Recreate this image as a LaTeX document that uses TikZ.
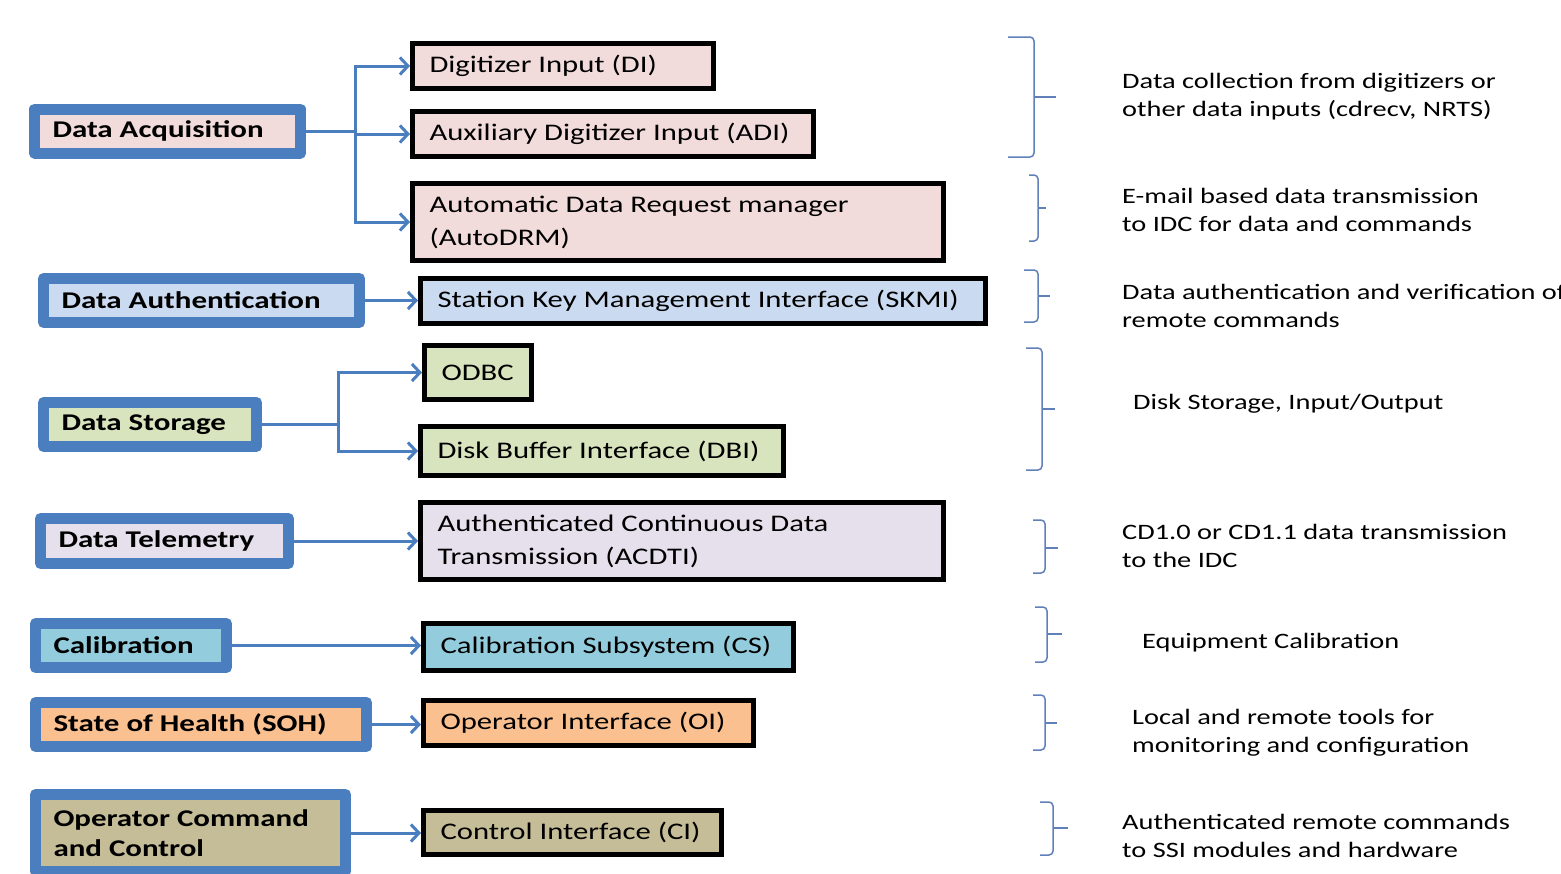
\documentclass[tikz,border=0pt]{standalone}
\usepackage{fontspec}
\setmainfont{Carlito}[FakeStretch=1.29]
\usetikzlibrary{arrows.meta}
\definecolor{grpblue}{HTML}{4A7EBF}
\definecolor{brkblue}{HTML}{5F80B8}
\definecolor{acqfill}{HTML}{F2DCDB}
\definecolor{authfill}{HTML}{CADAF0}
\definecolor{storfill}{HTML}{D7E4BD}
\definecolor{telefill}{HTML}{E5E0EC}
\definecolor{calfill}{HTML}{93CDDD}
\definecolor{sohfill}{HTML}{FAC090}
\definecolor{occfill}{HTML}{C4BD97}
\tikzset{
  grp/.style={draw=grpblue,line width=11pt,line join=round,inner xsep=18pt,inner ysep=0pt,
    align=flush left,font=\fontsize{24}{30}\selectfont\bfseries},
  unit/.style={draw=black,line width=5pt,inner xsep=17pt,inner ysep=0pt,
    align=flush left,font=\fontsize{23.8}{33}\selectfont},
  desc/.style={anchor=west,align=left,inner sep=0pt,font=\fontsize{22}{28}\selectfont},
  link/.style={draw=grpblue,line width=3pt},
  arr/.style={link,-{Straight Barb[length=8pt,width=17pt]}},
  brk/.style={draw=brkblue,line width=1.5pt,rounded corners=4pt}
}
\begin{document}
\begin{tikzpicture}[x=1pt,y=-1pt]
            \useasboundingbox(0,0)rectangle(1561,873);
            % groups
            \node[grp,fill=acqfill,text width=230pt,minimum height=44pt](acq)at(167.5,131){Data Acquisition};
            \node[grp,fill=authfill,text width=280pt,minimum height=44pt](auth)at(201.5,300.5){Data Authentication};
            \node[grp,fill=storfill,text width=177pt,minimum height=44pt](stor)at(150,424.5){Data Storage};
            \node[grp,fill=telefill,text width=212pt,minimum height=45pt](tele)at(164.5,541){Data Telemetry};
            \node[grp,fill=calfill,text width=155pt,minimum height=44pt](cal)at(131,645.5){Calibration};
            \node[grp,fill=sohfill,text width=295pt,minimum height=44pt](soh)at(201,724.5){State of Health (SOH)};
            \node[grp,fill=occfill,text width=274pt,minimum height=77pt](occ)at(190.5,833){Operator Command\\and Control};
            % units
            \node[unit,fill=acqfill,text width=267pt,minimum height=45pt](di)at(563,66){Digitizer Input (DI)};
            \node[unit,fill=acqfill,text width=367pt,minimum height=45pt](adi)at(613,134){Auxiliary Digitizer Input (ADI)};
            \node[unit,fill=acqfill,text width=497pt,minimum height=77pt](adrm)at(678,222){Automatic Data Request manager\\(AutoDRM)};
            \node[unit,fill=authfill,text width=531pt,minimum height=45pt](skmi)at(703,301){Station Key Management Interface (SKMI)};
            \node[unit,fill=storfill,text width=73pt,minimum height=54pt](odbc)at(478,372.5){ODBC};
            \node[unit,fill=storfill,text width=329pt,minimum height=49pt](dbi)at(602,451){Disk Buffer Interface (DBI)};
            \node[unit,fill=telefill,text width=489pt,minimum height=77pt](acdti)at(682,541){Authenticated Continuous Data\\Transmission (ACDTI)};
            \node[unit,fill=calfill,text width=336pt,minimum height=47pt](cs)at(608.5,647){Calibration Subsystem (CS)};
            \node[unit,fill=sohfill,text width=296pt,minimum height=45pt](oi)at(588.5,723){Operator Interface (OI)};
            \node[unit,fill=occfill,text width=264pt,minimum height=44pt](ci)at(572.5,832.5){Control Interface (CI)};
            % connectors
            \coordinate(acqj)at(355,131);
            \coordinate(storj)at(338,424.5);
            \draw[link](acq.east)--(acqj);
            \draw[arr](acqj)|-(di.west);
            \draw[arr](acqj)|-(adi.west);
            \draw[arr](acqj)|-(adrm.west);
            \draw[arr](auth.east)--(auth.east-|skmi.west);
            \draw[link](stor.east)--(storj);
            \draw[arr](storj)|-(odbc.west);
            \draw[arr](storj)|-(dbi.west);
            \draw[arr](tele.east)--(tele.east-|acdti.west);
            \draw[arr](cal.east)--(cal.east-|cs.west);
            \draw[arr](soh.east)--(soh.east-|oi.west);
            \draw[arr](occ.east)--(occ.east-|ci.west);
            % brackets
            \draw[brk](1008,37)--(1034,37)--(1034,157)--(1008,157);
            \draw[brk](1034,97)--(1056,97);
            \draw[brk](1029,175)--(1038,175)--(1038,241)--(1029,241);
            \draw[brk](1038,208)--(1046,208);
            \draw[brk](1024,270)--(1038,270)--(1038,322)--(1024,322);
            \draw[brk](1038,296)--(1050,296);
            \draw[brk](1026,348)--(1042,348)--(1042,470)--(1026,470);
            \draw[brk](1042,409)--(1055,409);
            \draw[brk](1033,520)--(1045,520)--(1045,573)--(1033,573);
            \draw[brk](1045,548)--(1058,548);
            \draw[brk](1035,607)--(1047,607)--(1047,662)--(1035,662);
            \draw[brk](1047,634)--(1062,634);
            \draw[brk](1033,695)--(1045,695)--(1045,750)--(1033,750);
            \draw[brk](1045,723)--(1057,723);
            \draw[brk](1040,802)--(1053,802)--(1053,855)--(1040,855);
            \draw[brk](1053,828)--(1068,828);
            % descriptions
            \node[desc](d1)at(1122,97){Data collection from digitizers or\\other data inputs (cdrecv, NRTS)};
            \node[desc](d2)at(1122,210){E-mail based data transmission\\to IDC for data and commands};
            \node[desc](d3)at(1122,306){Data authentication and verification of\\remote commands};
            \node[desc](d4)at(1133,404){Disk Storage, Input/Output};
            \node[desc](d5)at(1122,546){CD1.0 or CD1.1 data transmission\\to the IDC};
            \node[desc](d6)at(1142,643){Equipment Calibration};
            \node[desc](d7)at(1132,733){Local and remote tools for\\monitoring and configuration};
            \node[desc](d8)at(1122,836){Authenticated remote commands\\to SSI modules and hardware};
        \end{tikzpicture}
\end{document}
